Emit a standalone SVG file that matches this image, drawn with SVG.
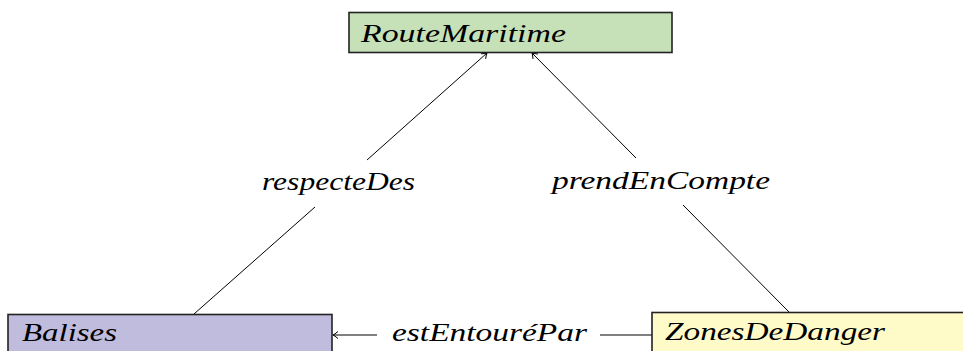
<svg xmlns="http://www.w3.org/2000/svg" width="963" height="351" viewBox="0 0 963 351">
<style>
.box{stroke:#222;stroke-width:1.6}
.lbl{font-family:'Liberation Serif','Times New Roman',serif;font-style:italic;font-weight:normal;font-size:26px;fill:#000}
.edge{stroke:#000;stroke-width:1;fill:none}
</style>
<defs>
<marker id="arr" markerUnits="userSpaceOnUse" markerWidth="12" markerHeight="12" refX="0" refY="0" viewBox="-8 -6 10 12" orient="auto">
<path d="M-5,-3.5 Q-1.5,-0.6 0,0 Q-1.5,0.6 -5,3.5" fill="none" stroke="#000" stroke-width="1"/>
</marker>
</defs>
<rect width="963" height="351" fill="#fff"/>
<g id="connectors">
<line class="edge" x1="194" y1="314" x2="315" y2="207"/>
<line class="edge" x1="367" y1="160" x2="487" y2="53" marker-end="url(#arr)"/>
<text class="lbl" x="262" y="190" textLength="153" lengthAdjust="spacingAndGlyphs">respecteDes</text>
<line class="edge" x1="789" y1="312" x2="683" y2="205"/>
<line class="edge" x1="636" y1="158" x2="532" y2="53" marker-end="url(#arr)"/>
<text class="lbl" x="552" y="189" textLength="218" lengthAdjust="spacingAndGlyphs">prendEnCompte</text>
<line class="edge" x1="652" y1="335" x2="600" y2="335"/>
<line class="edge" x1="377" y1="335" x2="333" y2="335" marker-end="url(#arr)"/>
<text class="lbl" x="392" y="341" textLength="195" lengthAdjust="spacingAndGlyphs">estEntouréPar</text>
</g>
<g id="RouteMaritime">
<rect class="box" x="349" y="12.5" width="323" height="40" fill="#c6e1b8"/>
<text class="lbl" x="361" y="42" textLength="205" lengthAdjust="spacingAndGlyphs">RouteMaritime</text>
</g>
<g id="Balises">
<rect class="box" x="8" y="314.5" width="324" height="42" fill="#c0bcdd"/>
<text class="lbl" x="22" y="341" textLength="95" lengthAdjust="spacingAndGlyphs">Balises</text>
</g>
<g id="ZonesDeDanger">
<rect class="box" x="652" y="312.5" width="324" height="42" fill="#fffbc9"/>
<text class="lbl" x="665" y="340" textLength="220" lengthAdjust="spacingAndGlyphs">ZonesDeDanger</text>
</g>
</svg>
